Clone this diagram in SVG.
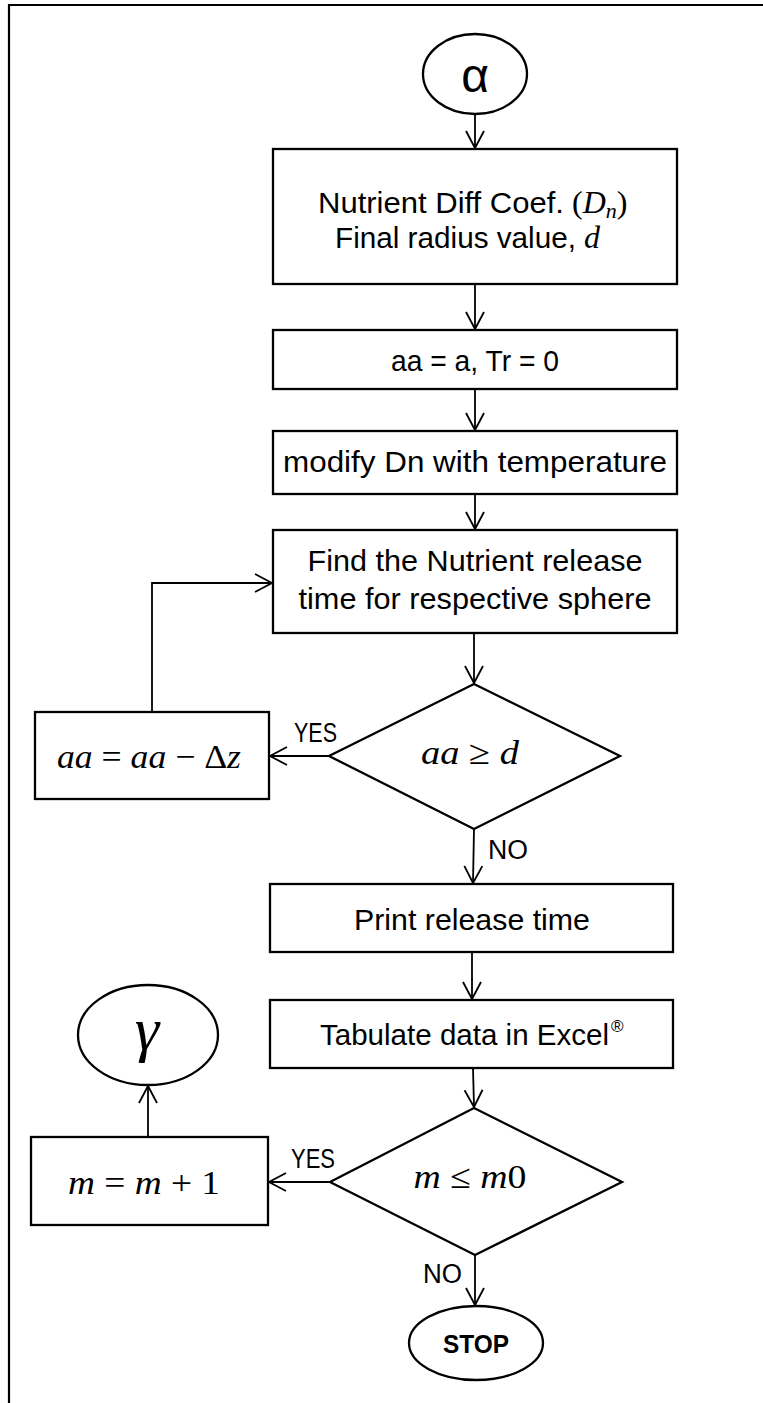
<svg xmlns="http://www.w3.org/2000/svg" width="763" height="1403" viewBox="0 0 763 1403">
<style>
.box{fill:#fff;stroke:#000;stroke-width:2.3}
.con{fill:none;stroke:#000;stroke-width:1.8}
.t{font-family:"Liberation Sans",Arial,sans-serif;font-size:30px;fill:#000}
.lbl{font-family:"Liberation Sans",Arial,sans-serif;font-size:27px;fill:#000}
.m{font-family:"Liberation Serif","Times New Roman",serif;font-size:34px;fill:#000}
.i{font-style:italic}
</style>
<defs>
<marker id="arr" markerUnits="userSpaceOnUse" viewBox="-19 -11 21 22" refX="0" refY="0" markerWidth="21" markerHeight="22" orient="auto">
<path d="M-17,-9 L0,0 L-17,9" fill="none" stroke="#000" stroke-width="1.8"/>
</marker>
</defs>
<rect width="763" height="1403" fill="#fff"/>
<g id="frame">
<path d="M9,1403 L9,5 L763,5" fill="none" stroke="#000" stroke-width="2.2"/>
</g>
<g id="connectors">
<line class="con" x1="475" y1="114" x2="475" y2="148" marker-end="url(#arr)"/>
<line class="con" x1="475" y1="284" x2="475" y2="329" marker-end="url(#arr)"/>
<line class="con" x1="475" y1="389" x2="475" y2="430" marker-end="url(#arr)"/>
<line class="con" x1="475" y1="494" x2="475" y2="529" marker-end="url(#arr)"/>
<line class="con" x1="474" y1="633" x2="474" y2="683" marker-end="url(#arr)"/>
<line class="con" x1="329" y1="756" x2="270" y2="756" marker-end="url(#arr)"/>
<polyline class="con" points="152,712 152,583 272,583" marker-end="url(#arr)"/>
<line class="con" x1="474" y1="829" x2="473" y2="883" marker-end="url(#arr)"/>
<line class="con" x1="472" y1="952" x2="472" y2="999" marker-end="url(#arr)"/>
<line class="con" x1="473" y1="1068" x2="474" y2="1107" marker-end="url(#arr)"/>
<line class="con" x1="330" y1="1182" x2="269" y2="1182" marker-end="url(#arr)"/>
<line class="con" x1="148" y1="1137" x2="148" y2="1086" marker-end="url(#arr)"/>
<line class="con" x1="475" y1="1255" x2="475" y2="1305" marker-end="url(#arr)"/>
<text class="lbl" x="294" y="742" textLength="43" lengthAdjust="spacingAndGlyphs">YES</text>
<text class="lbl" x="488" y="859" textLength="40" lengthAdjust="spacingAndGlyphs">NO</text>
<text class="lbl" x="291" y="1168" textLength="44" lengthAdjust="spacingAndGlyphs">YES</text>
<text class="lbl" x="423" y="1283" textLength="39" lengthAdjust="spacingAndGlyphs">NO</text>
</g>
<g id="alpha">
<ellipse class="box" cx="475" cy="74" rx="52" ry="40"/>
<text x="475" y="92" text-anchor="middle" style="font-family:'Liberation Sans',Arial,sans-serif;font-size:48px">α</text>
</g>
<g id="inputs">
<rect class="box" x="273" y="149" width="404" height="135"/>
<text class="t" x="318" y="213" textLength="246" lengthAdjust="spacingAndGlyphs">Nutrient Diff Coef.</text>
<text class="m" x="572" y="213" style="font-size:32px">(<tspan class="i">D</tspan><tspan class="i" style="font-size:22px" dy="5">n</tspan><tspan dy="-5">)</tspan></text>
<text class="t" x="335" y="248" textLength="241" lengthAdjust="spacingAndGlyphs">Final radius value,</text>
<text class="m i" x="584" y="248" style="font-size:32px">d</text>
</g>
<g id="init">
<rect class="box" x="273" y="330" width="404" height="59"/>
<text class="t" x="475" y="371" text-anchor="middle" textLength="168" lengthAdjust="spacingAndGlyphs">aa = a, Tr = 0</text>
</g>
<g id="modify">
<rect class="box" x="273" y="431" width="404" height="63"/>
<text class="t" x="475" y="472" text-anchor="middle" textLength="384" lengthAdjust="spacingAndGlyphs">modify Dn with temperature</text>
</g>
<g id="find">
<rect class="box" x="273" y="530" width="404" height="103"/>
<text class="t" x="475" y="571" text-anchor="middle" textLength="335" lengthAdjust="spacingAndGlyphs">Find the Nutrient release</text>
<text class="t" x="475" y="609" text-anchor="middle" textLength="353" lengthAdjust="spacingAndGlyphs">time for respective sphere</text>
</g>
<g id="decision1">
<polygon class="box" points="474,684 620,756 474,829 329,756"/>
<text class="m" x="470" y="764" text-anchor="middle" textLength="98" lengthAdjust="spacingAndGlyphs"><tspan class="i">aa</tspan> ≥ <tspan class="i">d</tspan></text>
</g>
<g id="decrement">
<rect class="box" x="35" y="712" width="234" height="87"/>
<text class="m" x="149" y="768" text-anchor="middle" textLength="184" lengthAdjust="spacingAndGlyphs"><tspan class="i">aa</tspan> = <tspan class="i">aa</tspan> − Δ<tspan class="i">z</tspan></text>
</g>
<g id="print">
<rect class="box" x="270" y="884" width="403" height="68"/>
<text class="t" x="472" y="930" text-anchor="middle" textLength="236" lengthAdjust="spacingAndGlyphs">Print release time</text>
</g>
<g id="tabulate">
<rect class="box" x="270" y="1000" width="403" height="68"/>
<text class="t" x="320" y="1045" textLength="289" lengthAdjust="spacingAndGlyphs">Tabulate data in Excel</text>
<text class="t" x="611" y="1032" style="font-size:17px">®</text>
</g>
<g id="decision2">
<polygon class="box" points="474,1108 622,1182 475,1255 330,1182"/>
<text class="m" x="470" y="1188" text-anchor="middle" textLength="113" lengthAdjust="spacingAndGlyphs"><tspan class="i">m</tspan> ≤ <tspan class="i">m</tspan>0</text>
</g>
<g id="increment">
<rect class="box" x="31" y="1137" width="237" height="88"/>
<text class="m" x="144" y="1194" text-anchor="middle" textLength="152" lengthAdjust="spacingAndGlyphs"><tspan class="i">m</tspan> = <tspan class="i">m</tspan> + 1</text>
</g>
<g id="gamma">
<ellipse class="box" cx="148" cy="1035" rx="70" ry="50"/>
<text class="m i" x="147" y="1050" text-anchor="middle" style="font-size:62px">γ</text>
</g>
<g id="stop">
<ellipse class="box" cx="476" cy="1343" rx="67" ry="37"/>
<text x="476" y="1353" text-anchor="middle" textLength="66" lengthAdjust="spacingAndGlyphs" style="font-family:'Liberation Sans',Arial,sans-serif;font-size:25px;font-weight:bold">STOP</text>
</g>
</svg>
